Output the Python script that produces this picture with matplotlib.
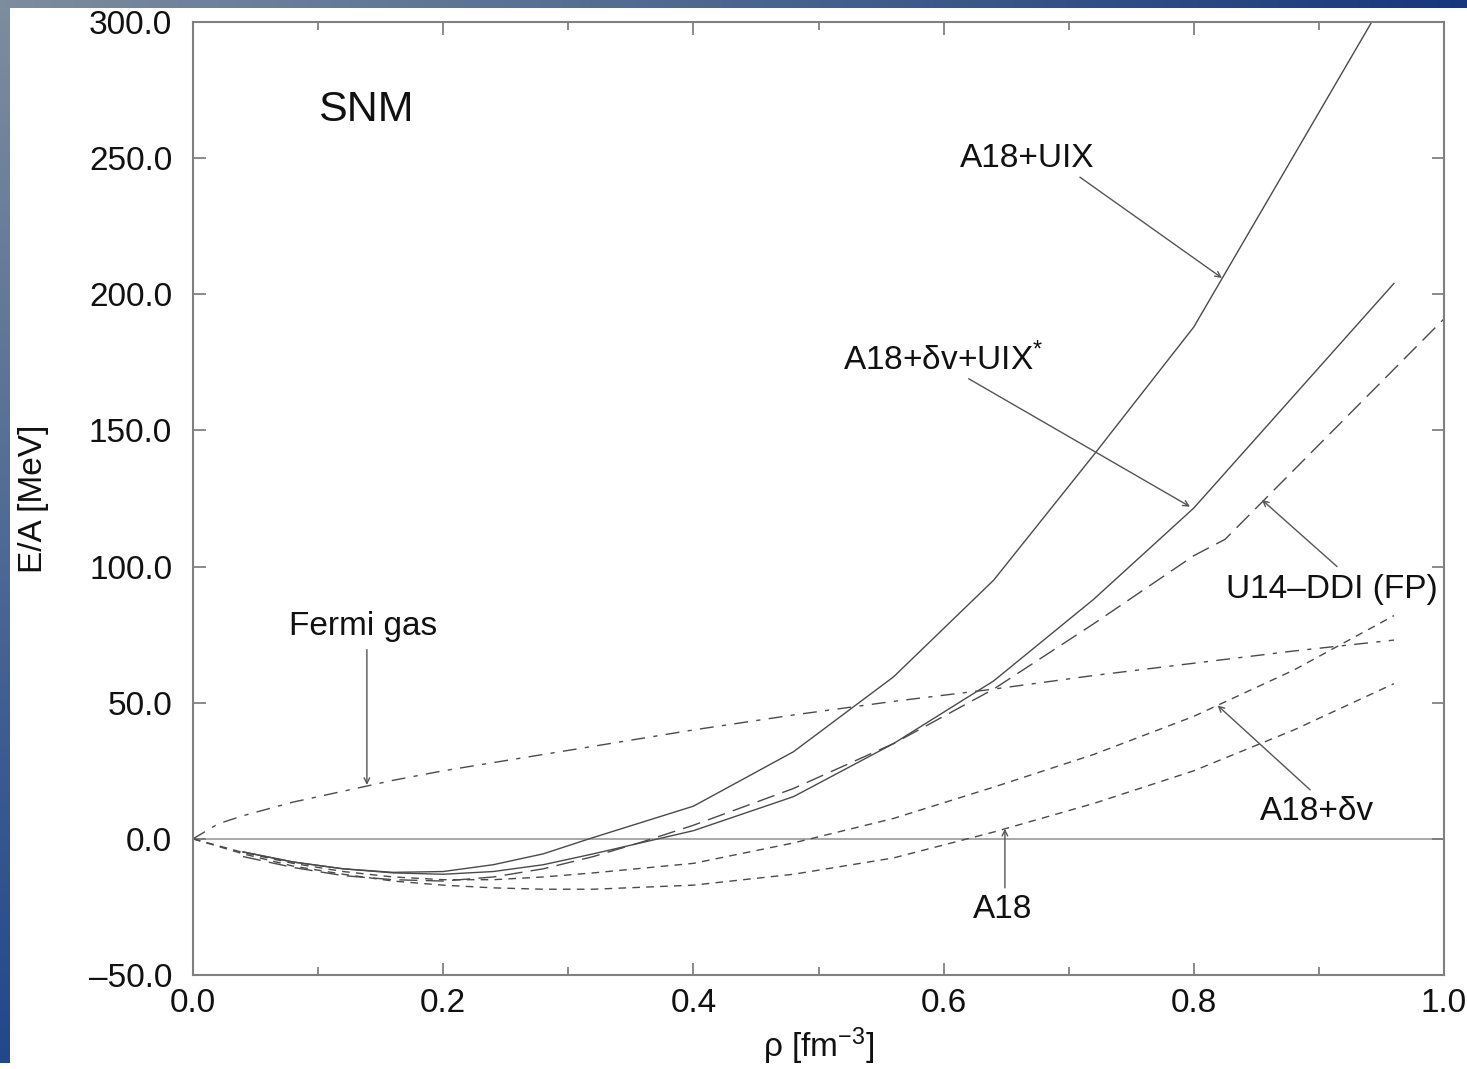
import numpy as np
import matplotlib
matplotlib.use("Agg")
import matplotlib.pyplot as plt
from matplotlib.colors import LinearSegmentedColormap
from matplotlib.ticker import MultipleLocator, FuncFormatter

plt.rcParams['font.family'] = ['Liberation Sans', 'DejaVu Sans']
plt.rcParams['mathtext.fontset'] = 'custom'
plt.rcParams['mathtext.rm'] = 'Liberation Sans'
plt.rcParams['mathtext.it'] = 'Liberation Sans'

# energy per nucleon of symmetric nuclear matter [MeV] vs density [fm^-3]
rho_full = [0.0, 0.04, 0.08, 0.12, 0.16, 0.2, 0.24, 0.28, 0.32, 0.4, 0.48,
            0.56, 0.64, 0.72, 0.8, 0.88, 0.96]
ea_a18 = [0.0, -5.5, -10.0, -13.0, -15.5, -17.0, -18.0, -18.5, -18.5, -17.0,
          -13.0, -7.0, 2.5, 13.0, 25.0, 40.0, 57.0]
ea_a18_dv = [0.0, -5.0, -9.0, -12.0, -14.0, -15.0, -15.0, -14.0, -12.5, -9.0,
             -1.5, 7.5, 19.0, 31.0, 45.0, 62.0, 82.0]

rho_fermi = [0.0, 0.02, 0.04, 0.08, 0.12, 0.16, 0.2, 0.24, 0.32, 0.4, 0.48,
             0.56, 0.64, 0.72, 0.8, 0.88, 0.96]
ea_fermi = [0.0, 5.5, 8.5, 13.5, 17.5, 21.5, 25.0, 28.0, 34.0, 40.0, 45.5,
            50.5, 55.0, 60.0, 64.5, 69.0, 73.0]

rho_uix = [0.04, 0.08, 0.12, 0.16, 0.2, 0.24, 0.28, 0.32, 0.4, 0.48, 0.56,
           0.64, 0.72, 0.8, 0.96]
ea_a18_uix = [-4.8, -8.5, -11.0, -12.3, -12.0, -9.5, -5.5, 0.5, 12.0, 32.0,
              59.5, 95.0, 141.0, 188.0, 314.0]
ea_a18_dv_uix = [-4.8, -8.5, -11.0, -12.5, -13.0, -12.0, -9.5, -5.5, 3.0,
                 15.5, 35.0, 58.0, 88.0, 121.5, 204.0]

rho_fp = [0.04, 0.08, 0.12, 0.16, 0.2, 0.24, 0.28, 0.32, 0.36, 0.4, 0.48,
          0.56, 0.64, 0.72, 0.8, 0.825, 1.0]
ea_fp = [-6.5, -10.5, -13.5, -15.0, -15.5, -14.0, -11.0, -6.5, -1.0, 5.0,
         18.5, 35.0, 55.0, 79.0, 104.0, 110.0, 191.0]

fig = plt.figure(figsize=(14.67, 10.69), dpi=100)
fig.patch.set_facecolor('white')

# slide frame: gradient bars along the top and left edges
top_cmap = LinearSegmentedColormap.from_list('top', ['#7d8c9f', '#4a6690', '#17377d'])
left_cmap = LinearSegmentedColormap.from_list('left', ['#7d8c9f', '#4f6a94', '#22478c'])
bar = fig.add_axes([0, 1 - 8 / 1069, 1, 8 / 1069])
bar.imshow(np.linspace(0, 1, 256)[None, :], cmap=top_cmap, aspect='auto')
bar.axis('off')
bar = fig.add_axes([0, 6 / 1069, 10 / 1467, 1 - 6 / 1069 - 8 / 1069])
bar.imshow(np.linspace(0, 1, 256)[:, None], cmap=left_cmap, aspect='auto')
bar.axis('off')

ax = fig.add_axes([193 / 1467, 1 - 975 / 1069, 1251 / 1467, 953 / 1069])

ink = '#4a4a4a'
ax.axhline(0, color='#9a9a9a', lw=1.2, zorder=1)
ax.plot(rho_uix, ea_a18_uix, color=ink, lw=1.0)
ax.plot(rho_uix, ea_a18_dv_uix, color=ink, lw=1.0)
ax.plot(rho_fp, ea_fp, color=ink, lw=1.0, dashes=(13, 6))
ax.plot(rho_full, ea_a18_dv, color=ink, lw=1.0, dashes=(5.5, 4.5))
ax.plot(rho_full, ea_a18, color=ink, lw=1.0, dashes=(5.5, 4.5))
ax.plot(rho_fermi, ea_fermi, color=ink, lw=1.0, dashes=(10, 6, 3, 6))

ax.set_xlim(0, 1.0)
ax.set_ylim(-50, 300)

ax.xaxis.set_major_locator(MultipleLocator(0.2))
ax.xaxis.set_minor_locator(MultipleLocator(0.1))
ax.yaxis.set_major_locator(MultipleLocator(50))
ax.xaxis.set_major_formatter(FuncFormatter(lambda v, p: f"{v:.1f}"))
ax.yaxis.set_major_formatter(FuncFormatter(lambda v, p: f"{v:.1f}".replace('-', '\u2013')))
ax.tick_params(which='both', direction='in', top=True, right=True,
               color='#777777', width=1.2, labelsize=24, labelcolor='#111111')
ax.tick_params(which='major', length=9)
ax.tick_params(which='minor', length=6)
ax.tick_params(axis='x', pad=9)
ax.tick_params(axis='y', pad=15)
for s in ax.spines.values():
    s.set_color('#808080')
    s.set_linewidth(1.5)

ax.set_xlabel('\u03c1 [fm$^{-3}$]', fontsize=24, color='#111111', labelpad=5)
ax.set_ylabel('E/A [MeV]', fontsize=24, color='#111111', labelpad=29)

arrow = dict(arrowstyle='->', color='#555555', lw=1.0, shrinkA=0, shrinkB=0,
             mutation_scale=10)
lab = dict(fontsize=24, color='#111111', ha='center', va='center')

ax.text(0.138, 267.5, 'SNM', fontsize=31, color='#111111', ha='center', va='center')
ax.text(0.667, 250.0, 'A18+UIX', **lab)
ax.annotate('', xy=(0.8225, 206.0), xytext=(0.709, 243.0), arrowprops=arrow)
ax.text(0.600, 176.0, 'A18+\u03b4v+UIX$^{*}$', **lab)
ax.annotate('', xy=(0.797, 122.0), xytext=(0.62, 169.0), arrowprops=arrow)
ax.text(0.910, 91.5, 'U14\u2013DDI (FP)', **lab)
ax.annotate('', xy=(0.8545, 124.5), xytext=(0.9145, 100.0), arrowprops=arrow)
ax.text(0.8985, 10.0, 'A18+\u03b4v', **lab)
ax.annotate('', xy=(0.819, 49.0), xytext=(0.893, 18.0), arrowprops=arrow)
ax.text(0.6475, -26.0, 'A18', **lab)
ax.annotate('', xy=(0.649, 3.7), xytext=(0.649, -18.0), arrowprops=arrow)
ax.text(0.136, 78.0, 'Fermi gas', **lab)
ax.annotate('', xy=(0.139, 19.8), xytext=(0.139, 69.5), arrowprops=arrow)

fig.savefig('out.png', dpi=100, facecolor=fig.get_facecolor())
